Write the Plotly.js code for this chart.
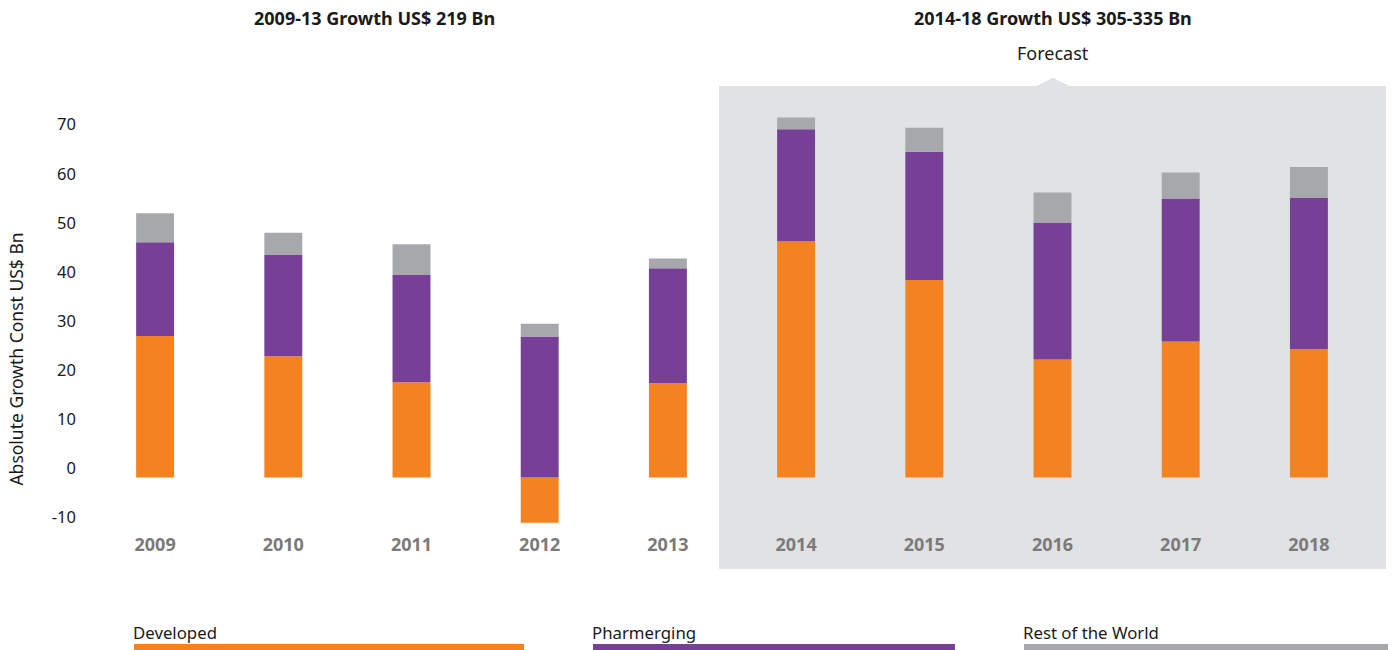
<!DOCTYPE html>
<html>
<head>
<meta charset="utf-8">
<script src="https://cdn.plot.ly/plotly-3.0.1.min.js"></script>
<style>html,body{margin:0;padding:0;background:#fff;}#chart{width:1393px;height:650px;}</style>
</head>
<body>
<div id="chart"></div>
<script>
const years = ['2009','2010','2011','2012','2013','2014','2015','2016','2017','2018'];
const developed = [28.8, 24.7, 19.4, -9.2, 19.2, 48.1, 40.2, 24.0, 27.7, 26.1];
const pharmerging = [19.1, 20.6, 21.8, 28.7, 23.4, 22.8, 26.1, 27.9, 29.1, 30.8];
const restOfWorld = [5.9, 4.5, 6.3, 2.6, 2.0, 2.4, 4.9, 6.1, 5.3, 6.3];
const seriesNames = ['Developed','Pharmerging','Rest of the World'];
const colors = ['#F58220','#773F96','#A7A8AB'];
const yTicks = [-10,0,10,20,30,40,50,60,70];
const yTickText = ['-10','0','10','20','30','40','50','60','70'];
const periodTitles = ['2009-13 Growth US$ 219 Bn','2014-18 Growth US$ 305-335 Bn'];

const font = 'Noto Sans, Open Sans, sans-serif';
const data = [developed, pharmerging, restOfWorld].map((vals, i) => ({
  type: 'bar', x: years, y: vals, name: seriesNames[i],
  marker: {color: colors[i], line: {width: 0}},
  showlegend: false, hoverinfo: 'x+y+name'
}));

const shapes = [
  {type:'rect', xref:'paper', yref:'paper', x0:0.4899, x1:1.0101, y0:-0.0805, y1:1,
   fillcolor:'#E1E2E4', line:{width:0}, layer:'below'},
  {type:'path', xref:'paper', yref:'paper', path:'M0.7377,1 L0.7502,1.0186 L0.7636,1 Z',
   fillcolor:'#E1E2E4', line:{width:0}, layer:'below'},
  {type:'rect', xref:'paper', yref:'paper', x0:0.03354, x1:0.3378, y0:-0.2617, y1:-0.2483, fillcolor:colors[0], line:{width:0}},
  {type:'rect', xref:'paper', yref:'paper', x0:0.3916, x1:0.6739, y0:-0.2617, y1:-0.2483, fillcolor:colors[1], line:{width:0}},
  {type:'rect', xref:'paper', yref:'paper', x0:0.7278, x1:1.0117, y0:-0.2617, y1:-0.2483, fillcolor:colors[2], line:{width:0}}
];

const ann = (o) => Object.assign({xref:'paper', yref:'paper', showarrow:false, xanchor:'center', yanchor:'middle'}, o);
const annotations = [
  ann({text:'<b>'+periodTitles[0]+'</b>', x:0.2215, y:1.1521, font:{family:font,size:18,color:'#1a1a1a'}}),
  ann({text:'<b>'+periodTitles[1]+'</b>', x:0.7502, y:1.1521, font:{family:font,size:18,color:'#1a1a1a'}}),
  ann({text:'Forecast', x:0.7502, y:1.0738, font:{family:font,size:18,color:'#1a1a1a'}}),
  ann({text:'Absolute Growth Const US$ Bn', x:-0.0585, y:0.388, textangle:-90, font:{family:font,size:17.5,color:'#1a1a1a'}}),
  ann({text:seriesNames[0], x:0.03354, y:-0.2237, xanchor:'left', xshift:-3, font:{family:font,size:16.8,color:'#1a1a1a'}}),
  ann({text:seriesNames[1], x:0.3916, y:-0.2237, xanchor:'left', xshift:-3, font:{family:font,size:16.8,color:'#1a1a1a'}}),
  ann({text:seriesNames[2], x:0.7278, y:-0.2237, xanchor:'left', xshift:-3, font:{family:font,size:16.8,color:'#1a1a1a'}})
];

const layout = {
  width:1393, height:650,
  margin:{l:91, r:20, t:86, b:117},
  paper_bgcolor:'rgba(0,0,0,0)', plot_bgcolor:'rgba(0,0,0,0)',
  barmode:'relative', bargap:0.704,
  font:{family:font, color:'#1a1a1a'},
  xaxis:{type:'category', range:[-0.5,9.5], showgrid:false, zeroline:false, showline:false, ticks:'',
         tickfont:{family:font, size:18, color:'#7a7a7a', weight:'bold'}, ticklabelstandoff:-1, fixedrange:true},
  yaxis:{range:[-11.3,79.7], tickvals:yTicks, ticktext:yTickText, showgrid:false, zeroline:false, showline:false, ticks:'',
         tickfont:{family:font, size:16.5, color:'#1a1a1a'}, ticklabelshift:-9, ticklabelstandoff:14, fixedrange:true},
  shapes:shapes, annotations:annotations
};

Plotly.newPlot('chart', data, layout, {displayModeBar:false, staticPlot:true});
</script>
</body>
</html>
